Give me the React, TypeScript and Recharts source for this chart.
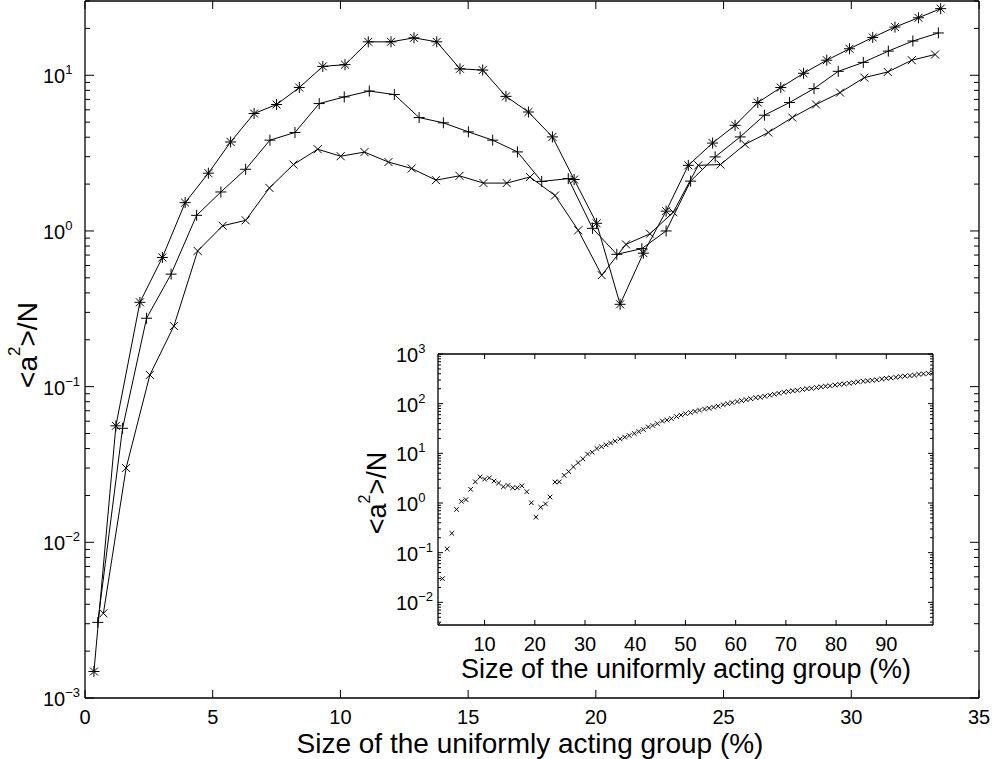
import React from 'react';
import { LineChart, Line, XAxis, YAxis, ScatterChart, Scatter } from 'recharts';

const FONT = '"Liberation Sans", Arial, Helvetica, sans-serif';

// Series drawn with '*' markers
const starX = [0.35, 1.21, 2.15, 3.03, 3.92, 4.83, 5.7, 6.62, 7.5, 8.39, 9.31, 10.18, 11.09, 11.98, 12.88, 13.77, 14.68, 15.57, 16.48, 17.36, 18.3, 19.15, 20.03, 20.95, 21.86, 22.75, 23.62, 24.57, 25.45, 26.34, 27.24, 28.13, 29.04, 29.93, 30.84, 31.71, 32.63, 33.5];
const starY = [0.00148, 0.056, 0.348, 0.676, 1.52, 2.35, 3.73, 5.68, 6.49, 8.34, 11.4, 11.7, 16.4, 16.4, 17.4, 16.4, 11.0, 10.8, 7.32, 5.81, 4.02, 2.14, 1.12, 0.338, 0.72, 1.34, 2.64, 3.67, 4.77, 6.68, 8.34, 10.3, 12.5, 14.8, 17.5, 20.4, 23.4, 26.8];

// Series drawn with '+' markers
const plusX = [0.5, 1.47, 2.41, 3.37, 4.37, 5.32, 6.29, 7.24, 8.22, 9.17, 10.15, 11.13, 12.11, 13.08, 14.03, 15.01, 15.96, 16.93, 17.88, 18.92, 19.87, 20.82, 21.8, 22.75, 23.71, 24.67, 25.65, 26.6, 27.58, 28.54, 29.49, 30.47, 31.45, 32.41, 33.41];
const plusY = [0.00306, 0.054, 0.275, 0.528, 1.26, 1.78, 2.49, 3.83, 4.29, 6.58, 7.26, 7.92, 7.52, 5.35, 4.95, 4.33, 3.83, 3.22, 2.08, 2.17, 1.04, 0.708, 0.77, 1.0, 2.09, 2.99, 4.02, 5.54, 6.68, 8.21, 10.6, 12.1, 14.3, 16.6, 18.7];

// Series drawn with 'x' markers
const crossX = [0.72, 1.61, 2.54, 3.48, 4.41, 5.39, 6.29, 7.22, 8.16, 9.11, 10.01, 10.94, 11.88, 12.79, 13.74, 14.66, 15.6, 16.51, 17.42, 18.4, 19.31, 20.23, 21.18, 22.12, 23.03, 24.01, 24.88, 25.84, 26.75, 27.69, 28.62, 29.56, 30.51, 31.43, 32.37, 33.28];
const crossY = [0.0035, 0.03, 0.119, 0.245, 0.744, 1.08, 1.17, 1.89, 2.67, 3.35, 3.02, 3.21, 2.77, 2.52, 2.12, 2.26, 2.03, 2.03, 2.22, 1.69, 1.01, 0.52, 0.82, 0.96, 1.32, 2.64, 2.67, 3.6, 4.29, 5.35, 6.49, 7.74, 9.66, 10.5, 12.5, 13.6];

// Inset: continuation of the 'x' series up to 100 %
const insetMoreX = [
  34.2, 35.1, 36.0, 37.0, 37.9, 38.8, 39.8, 40.7, 41.6, 42.6,
  43.5, 44.4, 45.4, 46.3, 47.2, 48.2, 49.1, 50.0, 51.0, 51.9,
  52.8, 53.8, 54.7, 55.6, 56.5, 57.5, 58.4, 59.3, 60.3, 61.2,
  62.1, 63.0, 64.0, 64.9, 65.8, 66.8, 67.7, 68.6, 69.6, 70.5,
  71.4, 72.3, 73.3, 74.2, 75.1, 76.1, 77.0, 77.9, 78.8, 79.8,
  80.7, 81.6, 82.6, 83.5, 84.4, 85.4, 86.3, 87.2, 88.1, 89.1,
  90.0, 90.9, 91.9, 92.8, 93.7, 94.7, 95.6, 96.5, 97.4, 98.4,
  99.3,
];
const insetMoreY = [
  14.8, 16.2, 17.6, 19.5, 21.1, 22.9, 25.1, 27.5, 30.2, 33.9,
  36.3, 39.8, 44.7, 46.8, 50.1, 55, 58.9, 63, 66, 70,
  74, 78, 81, 85, 89, 95, 100, 105, 110, 115,
  120, 126, 132, 135, 141, 148, 155, 162, 170, 176,
  182, 186, 193, 200, 204, 211, 219, 224, 229, 237,
  245, 251, 257, 266, 275, 282, 288, 295, 302, 313,
  324, 331, 339, 351, 359, 367, 376, 389, 398, 407,
  422,
];

const mainXTicks = [0, 5, 10, 15, 20, 25, 30, 35];
const mainYDecades = [0.001, 0.01, 0.1, 1, 10];
const insetXTicks = [10, 20, 30, 40, 50, 60, 70, 80, 90];
const insetYDecades = [0.001, 0.01, 0.1, 1, 10, 100, 1000];
const minorMult = [2, 3, 4, 5, 6, 7, 8, 9];

const MAIN_X_DOMAIN = [0, 35];
const MAIN_Y_DOMAIN = [0.001, 30];
const INSET_X_DOMAIN = [0.72, 99.3];
const INSET_Y_DOMAIN = [0.0035, 1000];

const X_TITLE = 'Size of the uniformly acting group (%)';

const toPts = (xs: number[], ys: number[]) => xs.map((x, i) => ({ x, y: ys[i] }));
const starData = toPts(starX, starY);
const plusData = toPts(plusX, plusY);
const crossData = toPts(crossX, crossY);
const insetData = toPts([...crossX, ...insetMoreX], [...crossY, ...insetMoreY]);

const logTicks = (decades: number[], lo: number, hi: number) => {
  const out: number[] = [];
  decades.forEach((d) => {
    if (d >= lo * 0.9999 && d <= hi * 1.0001) out.push(d);
    minorMult.forEach((m) => {
      const v = d * m;
      if (v >= lo * 0.9999 && v <= hi * 1.0001) out.push(v);
    });
  });
  return out.sort((a, b) => a - b);
};
const mainYTicks = logTicks(mainYDecades, MAIN_Y_DOMAIN[0], MAIN_Y_DOMAIN[1]);
const insetYTicks = logTicks(insetYDecades, INSET_Y_DOMAIN[0], INSET_Y_DOMAIN[1]);

const isDecade = (v: number) => Math.abs(Math.log10(v) - Math.round(Math.log10(v))) < 1e-6;
const expText = (v: number) => {
  const e = Math.round(Math.log10(v));
  return e < 0 ? '\u2212' + Math.abs(e) : String(e);
};

const makeYTick = (major: number, minor: number, dir: number, label: boolean) => (props: any) => {
  const { x, y, payload } = props;
  const v = payload.value;
  const dec = isDecade(v);
  return (
    <g>
      <line x1={x} x2={x + dir * (dec ? major : minor)} y1={y} y2={y} stroke="#000" strokeWidth={1} />
      {label && dec ? (
        <text x={x - 42} y={y + 8} fontSize={20} fontFamily={FONT} fill="#000">
          10
          <tspan fontSize={13} dy={-9}>
            {expText(v)}
          </tspan>
        </text>
      ) : null}
    </g>
  );
};

const makeXTick = (len: number, dir: number, label: boolean) => (props: any) => {
  const { x, y, payload } = props;
  return (
    <g>
      <line x1={x} x2={x} y1={y} y2={y + dir * len} stroke="#000" strokeWidth={1} />
      {label ? (
        <text x={x} y={y + 26} textAnchor="middle" fontSize={20} fontFamily={FONT} fill="#000">
          {payload.value}
        </text>
      ) : null}
    </g>
  );
};

const Star = ({ cx, cy, r }: any) => (
  <g stroke="#000" strokeWidth={1}>
    <line x1={cx - r} x2={cx + r} y1={cy} y2={cy} />
    <line x1={cx} x2={cx} y1={cy - r} y2={cy + r} />
    <line x1={cx - r * 0.72} x2={cx + r * 0.72} y1={cy - r * 0.72} y2={cy + r * 0.72} />
    <line x1={cx - r * 0.72} x2={cx + r * 0.72} y1={cy + r * 0.72} y2={cy - r * 0.72} />
  </g>
);
const Plus = ({ cx, cy, r }: any) => (
  <g stroke="#000" strokeWidth={1}>
    <line x1={cx - r} x2={cx + r} y1={cy} y2={cy} />
    <line x1={cx} x2={cx} y1={cy - r} y2={cy + r} />
  </g>
);
const Cross = ({ cx, cy, r }: any) => (
  <g stroke="#000" strokeWidth={1}>
    <line x1={cx - r} x2={cx + r} y1={cy - r} y2={cy + r} />
    <line x1={cx - r} x2={cx + r} y1={cy + r} y2={cy - r} />
  </g>
);

const axisStroke = { stroke: '#000', strokeWidth: 1.3 };

const xAxisCommon = {
  dataKey: 'x',
  type: 'number' as const,
  allowDataOverflow: true,
  interval: 0 as const,
  height: 1,
  tickSize: 0,
  tickMargin: 0,
  tickLine: false,
  axisLine: axisStroke,
};
const yAxisCommon = {
  dataKey: 'y',
  type: 'number' as const,
  scale: 'log' as const,
  allowDataOverflow: true,
  interval: 0 as const,
  width: 1,
  tickSize: 0,
  tickMargin: 0,
  tickLine: false,
  axisLine: axisStroke,
};

function MainChart() {
  return (
    <LineChart width={992} height={759} margin={{ top: 0, right: 12, bottom: 60, left: 84 }}>
      <XAxis xAxisId="b" {...xAxisCommon} domain={MAIN_X_DOMAIN} ticks={mainXTicks} tick={makeXTick(8, -1, true)} />
      <XAxis xAxisId="t" orientation="top" {...xAxisCommon} domain={MAIN_X_DOMAIN} ticks={mainXTicks} tick={makeXTick(8, 1, false)} />
      <YAxis yAxisId="l" {...yAxisCommon} domain={MAIN_Y_DOMAIN} ticks={mainYTicks} tick={makeYTick(9, 5, 1, true)} />
      <YAxis yAxisId="r" orientation="right" {...yAxisCommon} domain={MAIN_Y_DOMAIN} ticks={mainYTicks} tick={makeYTick(9, 5, -1, false)} />
      <Line
        xAxisId="b"
        yAxisId="l"
        data={starData}
        dataKey="y"
        stroke="#000"
        strokeWidth={1}
        isAnimationActive={false}
        activeDot={false}
        dot={(p: any) => <Star key={'s' + p.index} cx={p.cx} cy={p.cy} r={5.5} />}
      />
      <Line
        xAxisId="b"
        yAxisId="l"
        data={plusData}
        dataKey="y"
        stroke="#000"
        strokeWidth={1}
        isAnimationActive={false}
        activeDot={false}
        dot={(p: any) => <Plus key={'p' + p.index} cx={p.cx} cy={p.cy} r={5.5} />}
      />
      <Line
        xAxisId="b"
        yAxisId="l"
        data={crossData}
        dataKey="y"
        stroke="#000"
        strokeWidth={1}
        isAnimationActive={false}
        activeDot={false}
        dot={(p: any) => <Cross key={'c' + p.index} cx={p.cx} cy={p.cy} r={4} />}
      />
    </LineChart>
  );
}

function InsetChart() {
  return (
    <ScatterChart width={600} height={345} margin={{ top: 13, right: 26, bottom: 59, left: 77 }}>
      <XAxis xAxisId="b" {...xAxisCommon} domain={INSET_X_DOMAIN} ticks={insetXTicks} tick={makeXTick(5, -1, true)} />
      <XAxis xAxisId="t" orientation="top" {...xAxisCommon} domain={INSET_X_DOMAIN} ticks={insetXTicks} tick={makeXTick(5, 1, false)} />
      <YAxis yAxisId="l" {...yAxisCommon} domain={INSET_Y_DOMAIN} ticks={insetYTicks} tick={makeYTick(5, 3, 1, true)} />
      <YAxis yAxisId="r" orientation="right" {...yAxisCommon} domain={INSET_Y_DOMAIN} ticks={insetYTicks} tick={makeYTick(5, 3, -1, false)} />
      <Scatter
        xAxisId="b"
        yAxisId="l"
        data={insetData}
        dataKey="y"
        isAnimationActive={false}
        shape={(p: any) => <Cross cx={p.cx} cy={p.cy} r={2.3} />}
      />
    </ScatterChart>
  );
}

function Titles() {
  return (
    <svg width={992} height={759} style={{ position: 'absolute', left: 0, top: 0, pointerEvents: 'none' }}>
      <text x={530} y={753} textAnchor="middle" fontSize={28} fontFamily={FONT} fill="#000">
        {X_TITLE}
      </text>
      <text
        x={37}
        y={345}
        textAnchor="middle"
        fontSize={28}
        fontFamily={FONT}
        fill="#000"
        transform="rotate(-90 37 345)"
      >
        {'<a'}
        <tspan fontSize={17} dy={-17}>2</tspan>
        <tspan dy={17}>{'>/N'}</tspan>
      </text>
      <text x={686} y={678} textAnchor="middle" fontSize={27} fontFamily={FONT} fill="#000">
        {X_TITLE}
      </text>
      <text
        x={386}
        y={493}
        textAnchor="middle"
        fontSize={27}
        fontFamily={FONT}
        fill="#000"
        transform="rotate(-90 386 493)"
      >
        {'<a'}
        <tspan fontSize={16} dy={-16}>2</tspan>
        <tspan dy={16}>{'>/N'}</tspan>
      </text>
    </svg>
  );
}

export default function App() {
  return (
    <div style={{ position: 'absolute', left: 0, top: 0, width: 992, height: 759, background: '#fff', fontFamily: FONT }}>
      <div style={{ position: 'absolute', left: 0, top: 0 }}>
        <MainChart />
      </div>
      <div style={{ position: 'absolute', left: 360, top: 340 }}>
        <InsetChart />
      </div>
      <Titles />
    </div>
  );
}
